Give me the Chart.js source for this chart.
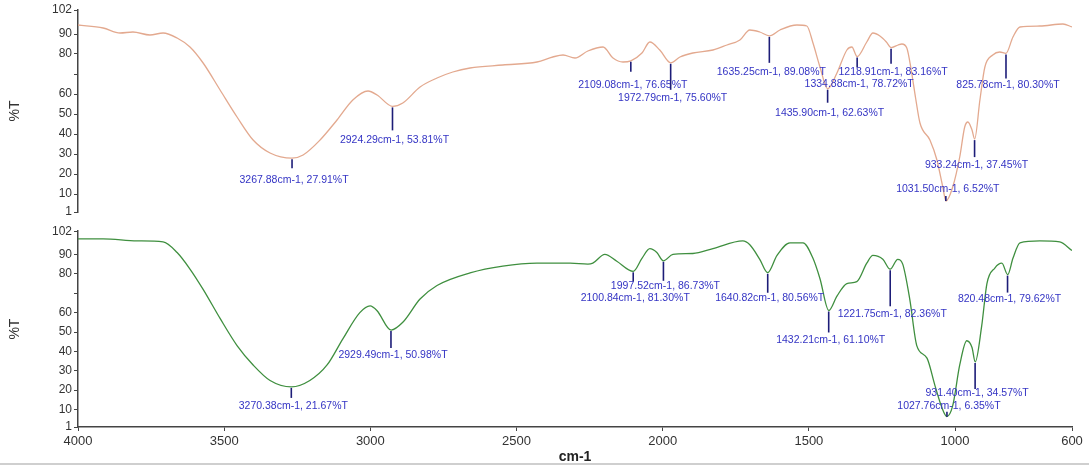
<!DOCTYPE html>
<html>
<head>
<meta charset="utf-8">
<script src="https://cdn.jsdelivr.net/npm/chart.js@4.4.0/dist/chart.umd.min.js"></script>
<style>
  html, body { margin: 0; padding: 0; background: #fff; }
  #wrap { position: relative; width: 1089px; height: 468px; overflow: hidden; }
  #top { position: absolute; left: 0; top: 0; }
  #bottom { position: absolute; left: 0; top: 222px; }
  #edge { position: absolute; left: 0; top: 463px; width: 1089px; height: 2px; background: #cfcfcf; }
</style>
</head>
<body>
<div id="wrap">
  <canvas id="top" width="1089" height="222"></canvas>
  <canvas id="bottom" width="1089" height="246"></canvas>
  <div id="edge"></div>
</div>
<script>
// upper spectrum (salmon)
const topWn = [4000, 3914, 3856, 3812, 3754, 3709, 3661, 3617, 3572, 3514, 3456, 3401, 3343, 3268, 3230,
  3172, 3114, 3060, 3008, 2977, 2924, 2889, 2830, 2772, 2718, 2659, 2547, 2430, 2376, 2341, 2300, 2256,
  2204, 2170, 2136, 2109, 2071, 2044, 2010, 1973, 1941, 1897, 1828, 1780, 1736, 1702, 1668, 1635, 1599,
  1541, 1507, 1486, 1462, 1436, 1404, 1370, 1353, 1335, 1302, 1281, 1257, 1235, 1219, 1195, 1182, 1165,
  1150, 1135, 1120, 1086, 1062, 1042, 1031, 1008, 984, 967, 956, 942, 933, 915, 898, 871, 847, 826, 802,
  778, 710, 631, 600];
const topT = [94.5, 93, 90.5, 91, 89.5, 90.5, 88, 83.5, 75.5, 62, 48.5, 37, 30.5, 27.9, 29.5,
  37, 47, 57, 61.5, 59.5, 53.8, 55.5, 63.5, 68, 71, 73, 74.5, 76, 78.5, 79.5, 78, 81.5,
  83.5, 78, 76, 76.6, 80.5, 86, 82, 75.6, 78.5, 80.5, 82, 84.5, 87, 92, 91, 89.1, 92,
  94.5, 94, 85.5, 73.5, 62.6, 70.5, 82, 83.5, 78.7, 86, 90.5, 89, 86, 83.2, 84.5, 85, 83,
  72, 58, 45.5, 37, 27, 13.5, 6.5, 13.5, 28.5, 43.5, 46, 42, 37.5, 57, 73.5, 79.5, 81, 80.3, 88.5,
  93.5, 94, 95, 93.5];

// lower spectrum (green)
const botWn = [4000, 3914, 3798, 3709, 3661, 3617, 3572, 3514, 3456, 3401, 3343, 3270, 3207, 3148, 3094,
  3036, 3001, 2977, 2929, 2889, 2830, 2772, 2659, 2547, 2430, 2317, 2256, 2239, 2198, 2157, 2101, 2071,
  2044, 2020, 1998, 1965, 1897, 1828, 1726, 1702, 1668, 1641, 1609, 1565, 1520, 1486, 1462, 1432, 1404,
  1370, 1336, 1302, 1281, 1247, 1222, 1196, 1179, 1155, 1131, 1096, 1069, 1045, 1028, 1008, 984, 960,
  942, 931, 909, 891, 864, 840, 820, 802, 778, 710, 642, 600];
const botT = [98, 98, 97, 96.5, 91, 82.5, 72, 57, 43, 33, 25, 21.7, 25, 33, 46.5,
  60, 63.5, 61, 51, 55, 67, 74, 80.5, 84, 85.5, 85.5, 85, 85.5, 90, 86.5, 81.3, 88,
  93, 91, 86.7, 90, 90.5, 93, 97, 95, 87.5, 80.6, 89.5, 96, 96, 88, 77.5, 61.1, 68.5,
  75, 76, 85.5, 89.5, 87.5, 82.4, 87.5, 85, 67, 43, 36.5, 22.5, 11, 6.4, 12, 33, 45.5,
  42, 34.6, 53, 75, 83, 85.5, 79.6, 88, 96, 97, 96.5, 92];

// labelled peaks
const topPeakWn = [3267.88, 2924.29, 2109.08, 1972.79, 1635.25, 1218.91, 1334.88, 1435.90, 825.78, 933.24, 1031.50];
const topPeakT = [27.91, 53.81, 76.65, 75.60, 89.08, 83.16, 78.72, 62.63, 80.30, 37.45, 6.52];
const botPeakWn = [3270.38, 2929.49, 1997.52, 2100.84, 1640.82, 1432.21, 1221.75, 820.48, 931.40, 1027.76];
const botPeakT = [21.67, 50.98, 86.73, 81.30, 80.56, 61.10, 82.36, 79.62, 34.57, 6.35];

const yTicks = [102, 90, 80, 70, 60, 50, 40, 30, 20, 10, 1];
const xTicks = [4000, 3500, 3000, 2500, 2000, 1500, 1000, 600];

// where each peak's marker ends and its text sits, in pixels below the peak
const topLineLen = [10, 24, 11, 27, 27, 16, 11, 14, 25, 18, -5];
const topTextDy = [22, 34, 24, 35, 36, 24, 28, 24, 32, 26, -12];
const botLineLen = [11, 18, 20, 10, 20, 22, 37, 18, 27, -5];
const botTextDy = [19, 25, 25, 27, 25, 30, 45, 25, 31, -11];

const peakLabels = {
  id: 'peakLabels',
  afterDatasetsDraw(chart, args, opts) {
    const { ctx } = chart;
    const x = chart.scales.x, y = chart.scales.y;
    ctx.save();
    opts.wn.forEach((wn, i) => {
      const px = x.getPixelForValue(wn);
      const py = y.getPixelForValue(opts.t[i]);
      ctx.strokeStyle = '#1d1d78';
      ctx.lineWidth = 1.6;
      ctx.beginPath();
      ctx.moveTo(px, py + (opts.lineLen[i] > 0 ? 1 : 0));
      ctx.lineTo(px, py + opts.lineLen[i]);
      ctx.stroke();
      ctx.fillStyle = '#3434c4';
      ctx.font = '10.5px "Liberation Sans", Arial, sans-serif';
      ctx.textAlign = 'center';
      ctx.textBaseline = 'middle';
      ctx.fillText(wn.toFixed(2) + 'cm-1, ' + opts.t[i].toFixed(2) + '%T', px + 2, py + opts.textDy[i]);
    });
    ctx.restore();
  }
};

const tickFont = { family: '"Liberation Sans", Arial, sans-serif', size: 12 };

function yScale() {
  return {
    min: 1,
    max: 102,
    afterBuildTicks: (scale) => { scale.ticks = yTicks.map((v) => ({ value: v })); },
    afterFit: (scale) => { scale.width = 78; },
    ticks: {
      autoSkip: false,
      color: '#333',
      font: tickFont,
      padding: 2,
      callback: (v) => (v === 70 ? '' : String(v)),
    },
    grid: { drawOnChartArea: false, tickLength: 4, color: '#444' },
    border: { color: '#444', width: 1.5 },
    title: {
      display: true,
      text: '%T',
      color: '#333',
      font: { family: '"Liberation Sans", Arial, sans-serif', size: 14 },
      padding: { top: 7, bottom: 0 },
    },
  };
}

function makeChart(id, wn, t, colour, peakOpts, showX) {
  return new Chart(document.getElementById(id), {
    type: 'line',
    data: {
      datasets: [{
        data: wn.map((v, i) => ({ x: v, y: t[i] })),
        borderColor: colour,
        borderWidth: 1.3,
        pointRadius: 0,
        cubicInterpolationMode: 'monotone',
        fill: false,
      }],
    },
    options: {
      responsive: false,
      animation: false,
      layout: { padding: showX ? { top: 8, right: 17, left: 0, bottom: 0 } : { top: 10, right: 17, left: 0, bottom: 10 } },
      plugins: { legend: { display: false }, tooltip: { enabled: false }, peakLabels: peakOpts },
      scales: {
        x: {
          type: 'linear',
          display: showX,
          min: 600,
          max: 4000,
          reverse: true,
          afterBuildTicks: (scale) => { scale.ticks = xTicks.map((v) => ({ value: v })); },
          afterFit: (scale) => { if (showX) scale.height = 41; },
          ticks: {
            autoSkip: false,
            color: '#333',
            font: { ...tickFont, size: 13 },
            padding: 3,
            maxRotation: 0,
            callback: (v) => String(v),
          },
          grid: { drawOnChartArea: false, tickLength: 4, color: '#444' },
          border: { color: '#444', width: 1.5 },
          title: {
            display: true,
            text: 'cm-1',
            color: '#222',
            font: { family: '"Liberation Sans", Arial, sans-serif', size: 14, weight: 'bold' },
            padding: { top: 0, bottom: 2 },
          },
        },
        y: yScale(),
      },
    },
    plugins: [peakLabels],
  });
}

makeChart('top', topWn, topT, '#e3a98f',
  { wn: topPeakWn, t: topPeakT, lineLen: topLineLen, textDy: topTextDy }, false);
makeChart('bottom', botWn, botT, '#3f8f3f',
  { wn: botPeakWn, t: botPeakT, lineLen: botLineLen, textDy: botTextDy }, true);
</script>
</body>
</html>
